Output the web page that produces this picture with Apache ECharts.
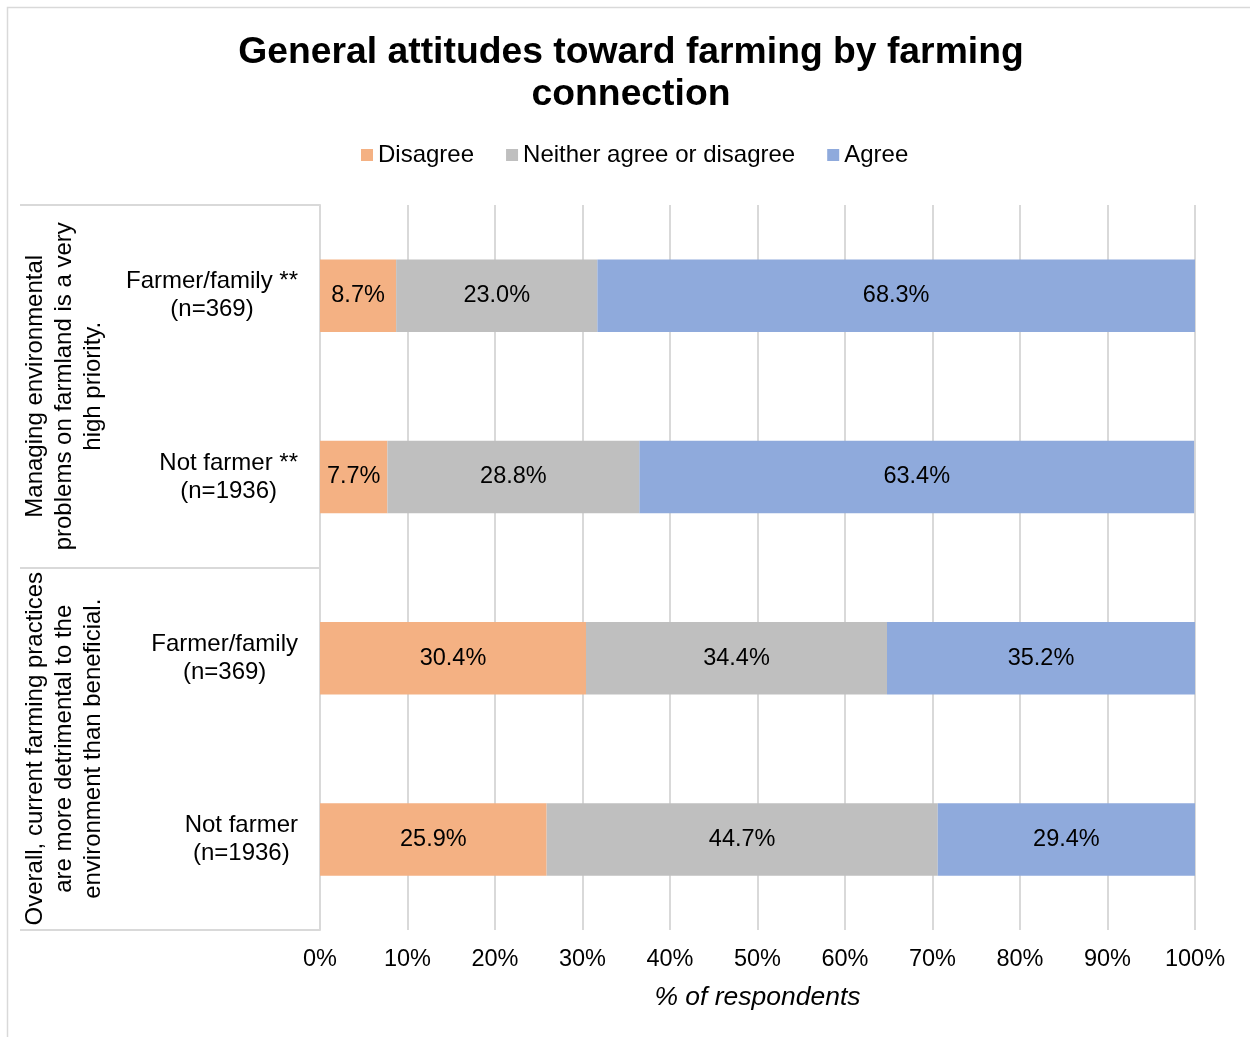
<!DOCTYPE html>
<html>
<head>
<meta charset="utf-8">
<title>General attitudes toward farming by farming connection</title>
<script src="https://cdn.jsdelivr.net/npm/echarts@6/dist/echarts.min.js"></script>
<style>
  html, body { margin: 0; padding: 0; background: #fff; }
  #chart { width: 1250px; height: 1037px; }
</style>
</head>
<body>
<div id="chart"></div>
<script>
// Statements (outer grouping) and respondent groups (inner rows), top to bottom
const statements = [
  'Managing environmental\nproblems on farmland is a very\nhigh priority.',
  'Overall, current farming practices\nare more detrimental to the\nenvironment than beneficial.'
];
const groups = [
  'Farmer/family **\n(n=369)',
  'Not farmer **\n(n=1936)',
  'Farmer/family\n(n=369)',
  'Not farmer\n(n=1936)'
];
const seriesNames = ['Disagree', 'Neither agree or disagree', 'Agree'];
const disagree = [8.7, 7.7, 30.4, 25.9];
const neither  = [23.0, 28.8, 34.4, 44.7];
const agree    = [68.3, 63.4, 35.2, 29.4];
const tickValues = [0, 10, 20, 30, 40, 50, 60, 70, 80, 90, 100];

const FONT = 'Liberation Sans, Arial, sans-serif';
const FS = 23.5;
const FS_CAT = 24;
const colors = ['#F4B183', '#BFBFBF', '#8FAADC'];
const gridColor = '#d9d9d9';

const chart = echarts.init(document.getElementById('chart'), null, { renderer: 'canvas' });

function centeredLines(text) {
  return text.split('\n').map(function (l) { return '{c|' + l + '}'; }).join('\n');
}

function barSeries(name, values, color) {
  return {
    name: name,
    type: 'bar',
    stack: 'total',
    yAxisIndex: 0,
    barCategoryGap: '60%',
    data: values,
    itemStyle: { color: color },
    label: {
      show: true,
      position: 'inside',
      formatter: function (p) { return p.value.toFixed(1) + '%'; },
      fontFamily: FONT,
      fontSize: FS,
      color: '#000'
    },
    emphasis: { disabled: true }
  };
}

chart.setOption({
  backgroundColor: '#fff',
  animation: false,
  textStyle: { fontFamily: FONT },
  graphic: [{
    type: 'rect',
    silent: true,
    shape: { x: 7.5, y: 7.5, width: 1300, height: 1100 },
    style: { fill: 'none', stroke: gridColor, lineWidth: 1.5 }
  }],
  title: {
    text: 'General attitudes toward farming by farming\nconnection',
    left: 626,
    textAlign: 'center',
    top: 27,
    textStyle: {
      fontFamily: FONT,
      fontSize: 37.3,
      fontWeight: 'bold',
      color: '#000',
      lineHeight: 42
    }
  },
  legend: {
    data: seriesNames,
    top: 143,
    left: 361,
    padding: 0,
    itemWidth: 12,
    itemHeight: 12,
    itemGap: 32,
    icon: 'rect',
    textStyle: { fontFamily: FONT, fontSize: FS_CAT, color: '#000' }
  },
  grid: { left: 320, right: 55, top: 205, bottom: 107, containLabel: false },
  xAxis: {
    type: 'value',
    min: 0,
    max: 100,
    interval: 10,
    name: '% of respondents',
    nameLocation: 'middle',
    nameGap: 54,
    nameTextStyle: { fontFamily: FONT, fontSize: 26.5, fontStyle: 'italic', color: '#000' },
    axisLine: { show: false },
    axisTick: { show: false },
    splitLine: { show: true, lineStyle: { color: gridColor, width: 2 } },
    axisLabel: {
      margin: 18,
      fontFamily: FONT,
      fontSize: FS,
      color: '#000',
      customValues: tickValues,
      formatter: function (v) { return v + '%'; }
    }
  },
  yAxis: [{
    type: 'category',
    data: groups,
    inverse: true,
    position: 'left',
    axisLine: { show: true, lineStyle: { color: gridColor, width: 2 } },
    axisTick: { show: false },
    axisLabel: {
      margin: 22,
      interval: 0,
      formatter: centeredLines,
      rich: { c: { fontFamily: FONT, fontSize: FS_CAT, color: '#000', lineHeight: 28, align: 'center' } }
    }
  }, {
    type: 'category',
    data: statements,
    inverse: true,
    position: 'left',
    axisLine: { show: false },
    axisTick: { show: true, length: 300, lineStyle: { color: gridColor, width: 2 } },
    axisLabel: {
      rotate: 90,
      margin: 212,
      interval: 0,
      fontFamily: FONT,
      fontSize: FS_CAT,
      color: '#000',
      lineHeight: 29,
      align: 'center'
    }
  }],
  series: [
    barSeries(seriesNames[0], disagree, colors[0]),
    barSeries(seriesNames[1], neither, colors[1]),
    barSeries(seriesNames[2], agree, colors[2])
  ]
});
</script>
</body>
</html>
